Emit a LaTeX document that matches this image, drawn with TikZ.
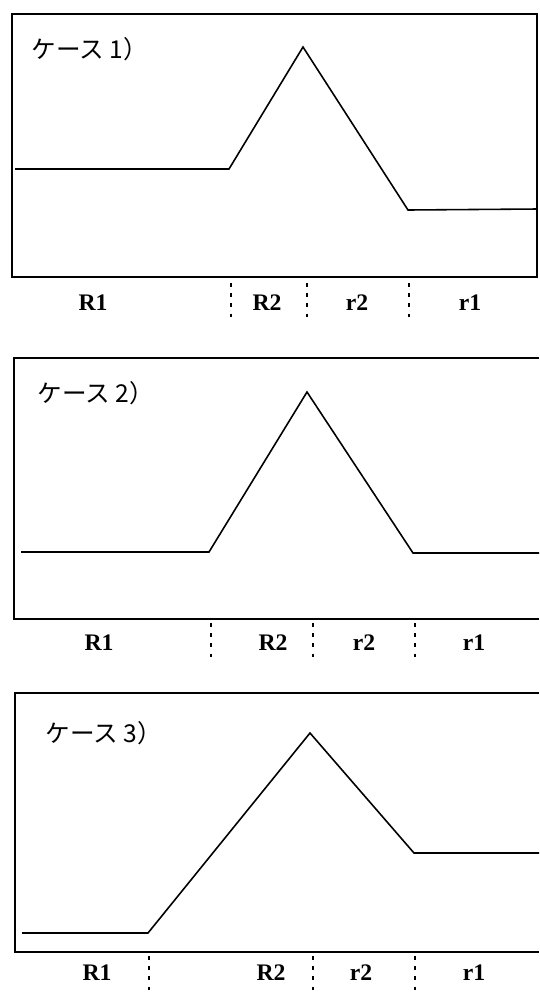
\documentclass[tikz,border=0pt]{standalone}
\usepackage{fontspec}
\setmainfont{Liberation Serif}
\newfontfamily\cjk{Noto Sans CJK JP}
\begin{document}
\begin{tikzpicture}[x=0.02cm,y=-0.02cm,line width=0.9pt,
  profile/.style={line join=miter},
  divider/.style={line width=1.4pt,dash pattern=on 2.2pt off 3.6pt},
  zone/.style={font=\fontsize{13.5}{15}\selectfont\bfseries},
  casetitle/.style={anchor=west,font=\fontsize{14}{16}\selectfont\cjk}]
\useasboundingbox (0,0) rectangle (539,995);

% case 1
\draw (12,14) rectangle (537,277);
\node[casetitle] (title1) at (25,49) {ケース 1）};
\coordinate (a1) at (15,169);
\coordinate (b1) at (229,169);
\coordinate (p1) at (303,47);
\coordinate (v1) at (408,210);
\coordinate (e1) at (537,209);
\draw[profile] (a1) -- (b1) -- (p1) -- (v1) -- (e1);
\foreach \x in {231,307,409}
  \draw[divider] (\x,283) -- (\x,323);
\node[zone] (R1a) at (93,303) {R1};
\node[zone] (R2a) at (267,303) {R2};
\node[zone] (r2a) at (357,303) {r2};
\node[zone] (r1a) at (470,303) {r1};

% case 2
\draw (539,358) -- (14,358) -- (14,619) -- (539,619);
\node[casetitle] (title2) at (31,393) {ケース 2）};
\coordinate (a2) at (21,552);
\coordinate (b2) at (209,552);
\coordinate (p2) at (307,392);
\coordinate (v2) at (413,553);
\coordinate (e2) at (539,553);
\draw[profile] (a2) -- (b2) -- (p2) -- (v2) -- (e2);
\foreach \x in {211,313,415}
  \draw[divider] (\x,623) -- (\x,663);
\node[zone] (R1b) at (99,643) {R1};
\node[zone] (R2b) at (273,643) {R2};
\node[zone] (r2b) at (364,643) {r2};
\node[zone] (r1b) at (474,643) {r1};

% case 3
\draw (539,693) -- (15,693) -- (15,952) -- (539,952);
\node[casetitle] (title3) at (39,733) {ケース 3）};
\coordinate (a3) at (22,933);
\coordinate (b3) at (148,933);
\coordinate (p3) at (310,733);
\coordinate (v3) at (414,853);
\coordinate (e3) at (539,853);
\draw[profile] (a3) -- (b3) -- (p3) -- (v3) -- (e3);
\foreach \x in {149,313,415}
  \draw[divider] (\x,956) -- (\x,996);
\node[zone] (R1c) at (97,973) {R1};
\node[zone] (R2c) at (271,973) {R2};
\node[zone] (r2c) at (361,973) {r2};
\node[zone] (r1c) at (474,973) {r1};
\end{tikzpicture}
\end{document}
